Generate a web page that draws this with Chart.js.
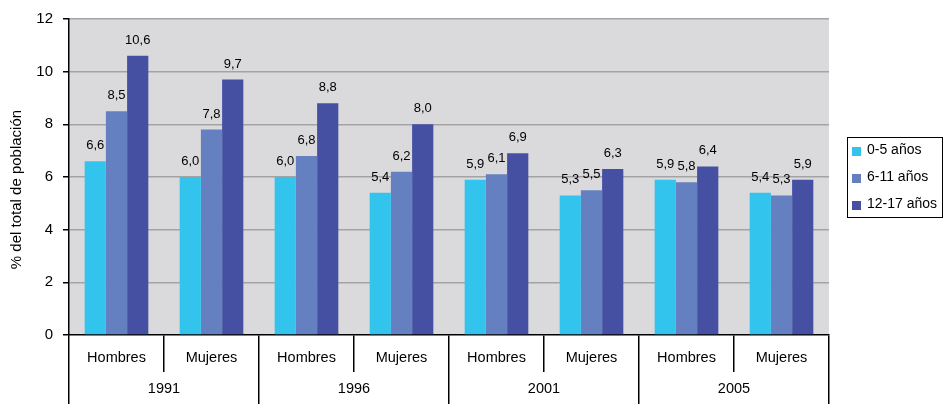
<!DOCTYPE html>
<html>
<head>
<meta charset="utf-8">
<script src="https://cdn.jsdelivr.net/npm/chart.js@4.4.1/dist/chart.umd.min.js"></script>
<style>
  html, body { margin: 0; padding: 0; background: #fff; }
</style>
</head>
<body>
<canvas id="chart" width="944" height="404"></canvas>
<script>
  "use strict";

  // categories
  const groups = ["Hombres", "Mujeres", "Hombres", "Mujeres", "Hombres", "Mujeres", "Hombres", "Mujeres"];
  const years = ["1991", "1996", "2001", "2005"];
  const seriesNames = ["0-5 años", "6-11 años", "12-17 años"];

  // series values (% del total de población)
  const age0to5 = [6.6, 6.0, 6.0, 5.4, 5.9, 5.3, 5.9, 5.4];
  const age6to11 = [8.5, 7.8, 6.8, 6.2, 6.1, 5.5, 5.8, 5.3];
  const age12to17 = [10.6, 9.7, 8.8, 8.0, 6.9, 6.3, 6.4, 5.9];

  // y axis
  const yMin = 0;
  const yMax = 12;
  const yStep = 2;

  const colors = ["#33c4ee", "#6580c0", "#4650a2"];
  const FONT = "'Liberation Sans', Arial, sans-serif";

  const fmt = (v) => v.toFixed(1).replace(".", ",");

  // grey plot background
  const plotBg = {
    id: "plotBg",
    beforeDraw(chart) {
      const { ctx, chartArea: a } = chart;
      ctx.save();
      ctx.fillStyle = "#dadadc";
      ctx.fillRect(a.left, a.top, a.right - a.left, a.bottom - a.top);
      ctx.restore();
    },
  };

  // value labels above bars
  const barLabels = {
    id: "barLabels",
    afterDatasetsDraw(chart) {
      const ctx = chart.ctx;
      ctx.save();
      ctx.font = "13px " + FONT;
      ctx.fillStyle = "#000";
      ctx.textAlign = "center";
      ctx.textBaseline = "alphabetic";
      chart.data.datasets.forEach((ds, i) => {
        chart.getDatasetMeta(i).data.forEach((bar, j) => {
          ctx.fillText(fmt(ds.data[j]), bar.x, bar.y - 12);
        });
      });
      ctx.restore();
    },
  };

  // boxed legend on the right
  const boxLegend = {
    id: "boxLegend",
    afterDraw(chart) {
      const { ctx, chartArea: a } = chart;
      const left = a.right + 18;
      const w = 95;
      const h = 80;
      const mid = (a.top + a.bottom) / 2;
      const top = mid - h / 2;
      ctx.save();
      ctx.fillStyle = "#fff";
      ctx.fillRect(left, top, w, h);
      ctx.strokeStyle = "#000";
      ctx.lineWidth = 1;
      ctx.strokeRect(left + 0.5, top + 0.5, w, h);
      ctx.font = "14px " + FONT;
      ctx.textBaseline = "middle";
      ctx.textAlign = "left";
      chart.data.datasets.forEach((ds, i) => {
        const y = mid + (i - 1) * 27;
        ctx.fillStyle = ds.backgroundColor;
        ctx.fillRect(left + 5, y - 3, 9, 9);
        ctx.fillStyle = "#000";
        ctx.fillText(ds.label, left + 20, y);
      });
      ctx.restore();
    },
  };

  const ctx = document.getElementById("chart");

  new Chart(ctx, {
    type: "bar",
    data: {
      labels: groups,
      datasets: [
        { label: seriesNames[0], data: age0to5, backgroundColor: colors[0] },
        { label: seriesNames[1], data: age6to11, backgroundColor: colors[1] },
        { label: seriesNames[2], data: age12to17, backgroundColor: colors[2] },
      ],
    },
    options: {
      responsive: false,
      animation: false,
      devicePixelRatio: 1,
      layout: {
        padding: { top: 19, right: 115, bottom: 0, left: 0 },
      },
      datasets: {
        bar: {
          categoryPercentage: 0.67,
          barPercentage: 1.0,
          borderWidth: 0,
        },
      },
      plugins: {
        legend: { display: false },
        tooltip: { enabled: false },
      },
      scales: {
        x: {
          type: "category",
          offset: true,
          grid: {
            offset: true,
            drawOnChartArea: false,
            color: "#000",
            tickLength: 37,
            lineWidth: 1.5,
          },
          border: { display: true, color: "#000", width: 1.5 },
          ticks: {
            color: "#000",
            font: { family: FONT, size: 14.5 },
            padding: -23,
            maxRotation: 0,
            autoSkip: false,
          },
          afterFit(scale) {
            scale.height = 37;
          },
        },
        x2: {
          type: "category",
          position: "bottom",
          labels: years,
          offset: true,
          weight: 1,
          grid: {
            offset: true,
            drawOnChartArea: false,
            color: "#000",
            tickLength: 32,
            lineWidth: 1.5,
          },
          border: { display: false },
          ticks: {
            color: "#000",
            font: { family: FONT, size: 14.5 },
            padding: -24,
            maxRotation: 0,
            autoSkip: false,
          },
          afterFit(scale) {
            scale.height = 32;
          },
        },
        y: {
          min: yMin,
          max: yMax,
          ticks: {
            stepSize: yStep,
            color: "#000",
            font: { family: FONT, size: 15 },
            padding: 10,
          },
          grid: {
            color: (c) => (c.tick && c.tick.value === 0 ? "rgba(0,0,0,0)" : "#a3a3a5"),
            lineWidth: 1.5,
            tickColor: "#000",
            tickLength: 6,
          },
          border: { display: true, color: "#000", width: 1.5 },
          title: {
            display: true,
            // trailing spaces nudge the rotated title down a little, like the original
            text: "% del total de población      ",
            color: "#000",
            font: { family: FONT, size: 15 },
            padding: { top: 8, bottom: 0 },
          },
          afterFit(scale) {
            scale.width = 69;
          },
        },
      },
    },
    plugins: [plotBg, barLabels, boxLegend],
  });
</script>
</body>
</html>
